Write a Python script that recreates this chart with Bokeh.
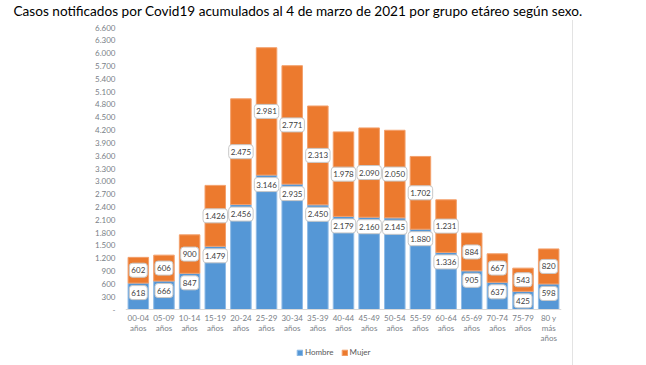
from bokeh.plotting import figure
from bokeh.models import (ColumnDataSource, FactorRange, Range1d, FixedTicker,
                          Legend, LegendItem, CategoricalAxis, Title)
from bokeh.core.properties import value
from bokeh.embed import file_html
from bokeh.resources import INLINE

title_text = "Casos notificados por Covid19 acumulados al 4 de marzo de 2021 por grupo etáreo según sexo."

categories = ["00-04\naños", "05-09\naños", "10-14\naños", "15-19\naños", "20-24\naños",
              "25-29\naños", "30-34\naños", "35-39\naños", "40-44\naños", "45-49\naños",
              "50-54\naños", "55-59\naños", "60-64\naños", "65-69\naños", "70-74\naños",
              "75-79\naños", "80 y\nmás\naños"]
hombre = [618, 666, 847, 1479, 2456, 3146, 2935, 2450, 2179, 2160, 2145, 1880, 1336, 905, 637, 425, 598]
mujer = [602, 606, 900, 1426, 2475, 2981, 2771, 2313, 1978, 2090, 2050, 1702, 1231, 884, 667, 543, 820]
y_ticks = list(range(0, 6601, 300))
series_names = ["Hombre", "Mujer"]

BLUE = "#5597d6"
ORANGE = "#ec7a2e"
FONT = "Lato"

Y_MAX = 6600
FRAME_TOP, ZERO_PX, FRAME_BOTTOM = 27, 309, 365
# extend the value range below zero so the category labels and legend sit inside the frame
Y_MIN = -(FRAME_BOTTOM - ZERO_PX) * Y_MAX / (ZERO_PX - FRAME_TOP)


def fmt(v):
    return "-" if v == 0 else f"{v:,}".replace(",", ".")


total = [h + m for h, m in zip(hombre, mujer)]
src = ColumnDataSource(dict(
    cat=categories, hombre=hombre, mujer=mujer, total=total,
    zero=[0] * len(hombre),
    mid_m=[h + m / 2 for h, m in zip(hombre, mujer)],
    lab_h=[fmt(v) for v in hombre], lab_m=[fmt(v) for v in mujer],
))

p = figure(width=640, height=365, x_range=FactorRange(*categories, range_padding=0),
           y_range=Range1d(Y_MIN, Y_MAX), output_backend="svg", toolbar_location=None,
           min_border_left=125, min_border_right=79, min_border_top=FRAME_TOP, min_border_bottom=0,
           x_axis_location=None)
p.styles = {
    "background-image": "linear-gradient(to right, transparent 572px, #e3e3e3 572px, "
                        "#e3e3e3 573px, transparent 573px)",
    "background-repeat": "no-repeat",
    "background-position": "0 20px",
    "background-size": "100% calc(100% - 20px)",
}
p.outline_line_color = None
p.grid.visible = False
p.background_fill_alpha = 0
p.border_fill_alpha = 0

# spacer between frame and title, then the title itself
p.add_layout(Title(text=" ", text_font_size="1px", standoff=4), "above")
p.add_layout(Title(text=title_text, align="left", offset=-112, vertical_align="top", standoff=0,
                   text_font=FONT, text_font_size="13.6px", text_font_style="normal",
                   text_color="#000000"), "above")

rh = p.vbar(x="cat", bottom="zero", top="hombre", width=0.8, source=src,
            fill_color=BLUE, line_color="#8fbbe6", line_width=1)
rm = p.vbar(x="cat", bottom="hombre", top="total", width=0.8, source=src,
            fill_color=ORANGE, line_color="#f3a06c", line_width=1)

box = dict(text_font=value(FONT), text_font_size="8px", text_color="#404040",
           text_align="center", text_baseline="middle",
           background_fill_color="white", border_line_color="#c8c8c8",
           border_line_width=1, padding=(2, 4), border_radius=3)
p.text(x="cat", y="hombre", text="lab_h", y_offset=9.5, source=src, **box)
p.text(x="cat", y="mid_m", text="lab_m", source=src, **box)

# axes
p.yaxis.ticker = FixedTicker(ticks=y_ticks)
p.yaxis.major_label_overrides = {t: fmt(t) for t in y_ticks}
p.yaxis.axis_line_color = None
p.yaxis.major_tick_line_color = None
p.yaxis.minor_tick_line_color = None
p.yaxis.major_tick_out = 0
p.yaxis.major_tick_in = 0
p.yaxis.minor_tick_out = 0
p.yaxis.major_label_standoff = 10
p.yaxis.major_label_text_font = FONT
p.yaxis.major_label_text_font_size = "8px"
p.yaxis.major_label_text_color = "#7a7f88"

xaxis = CategoricalAxis(fixed_location=0)
xaxis.axis_line_color = "#d9d9d9"
xaxis.major_tick_line_color = None
xaxis.minor_tick_line_color = None
xaxis.major_tick_out = 0
xaxis.major_tick_in = 0
xaxis.major_label_standoff = 3
xaxis.major_label_text_font = FONT
xaxis.major_label_text_font_size = "8px"
xaxis.major_label_text_color = "#7a7f88"
xaxis.major_label_text_line_height = 1.0
p.add_layout(xaxis, "below")

legend = Legend(items=[LegendItem(label=series_names[0], renderers=[rh]),
                       LegendItem(label=series_names[1], renderers=[rm])],
                location=(171, 8), orientation="horizontal",
                label_text_font=FONT, label_text_font_size="8px", label_text_color="#595959",
                glyph_width=7, glyph_height=7, label_standoff=2, spacing=7, padding=0, margin=0,
                border_line_color=None, background_fill_alpha=0, label_height=8)
p.add_layout(legend, "center")

open("out.html", "w").write(file_html(p, INLINE))
